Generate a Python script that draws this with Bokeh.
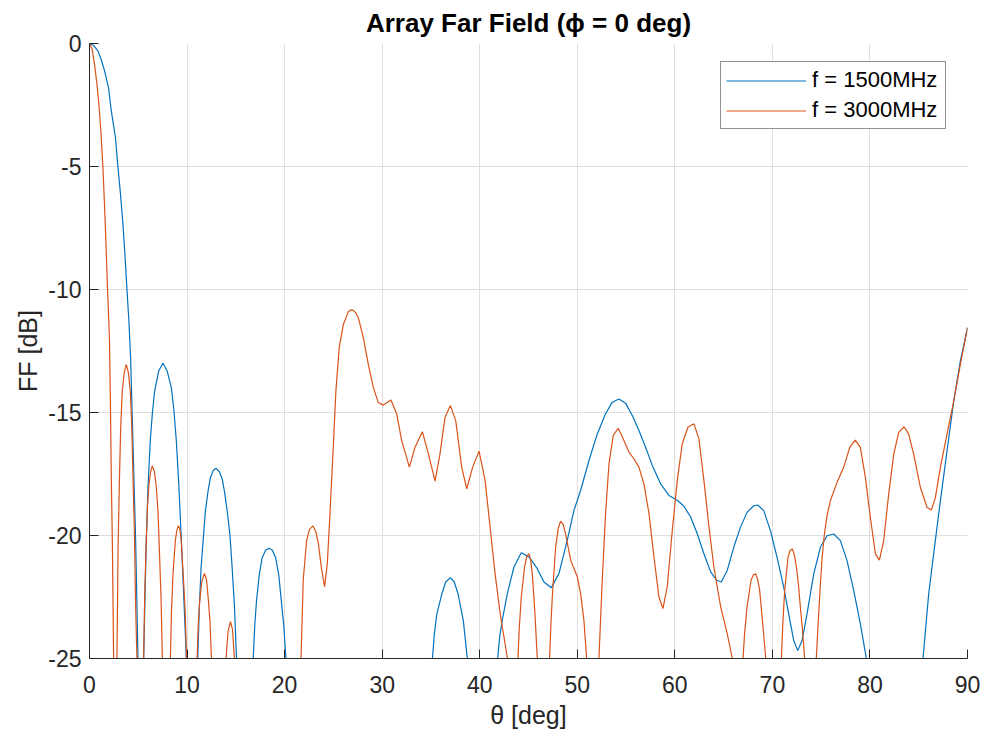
from bokeh.plotting import figure
from bokeh.models import Range1d, FixedTicker, Legend, LegendItem, CustomJSTickFormatter
from bokeh.embed import file_html
from bokeh.resources import INLINE

# f = 1500 MHz  (-40 marks a null below the axis)
theta_1500 = [0, 0.4, 0.86, 1.2, 1.54, 1.95, 2.23, 2.65, 2.91, 3.15, 3.42, 3.65, 3.84, 4.04, 4.21, 4.45,
              4.73, 4.97, 5.26, 5.55, 5.82, 6.0, 6.23, 6.45, 6.68, 7.1, 7.53, 7.95, 8.39, 8.65, 8.9,
              9.15, 9.42, 9.93, 10.5, 11.1, 11.25, 11.44, 11.88, 12.15, 12.4, 12.7, 12.98, 13.3, 13.6,
              13.85, 14.11, 14.4, 14.62, 14.85, 15.07, 15.9, 16.78, 16.95, 17.12, 17.4, 17.7, 18.05,
              18.39, 18.75, 19.08, 19.4, 19.66, 19.9, 20.14, 27.6,
              35.15, 35.35, 35.6, 36.1, 36.5, 36.99, 37.4, 37.8, 38.32, 38.73, 40.3, 41.84, 42.05, 42.31,
              42.83, 43.51, 44.26, 45.05, 45.9, 46.58, 47.34, 48.12, 48.97, 49.66, 50.34, 51.2, 52.05,
              52.9, 53.59, 54.27, 54.95, 55.64, 56.32, 57.0, 57.69, 58.54, 59.4, 60.25, 60.93, 61.62,
              62.3, 62.98, 63.67, 64.28, 64.76, 65.37, 66.04, 66.72, 67.4, 68.09, 68.5, 69.11, 69.8,
              70.48, 71.16, 71.67, 72.19, 72.6, 73.04, 73.55, 74.24, 74.92, 75.6, 76.29, 76.97, 77.65,
              78.34, 79.02, 79.63, 82.5, 85.44, 86.02, 86.53, 87.22, 87.9, 88.59, 89.27, 90.0]
ff_1500 = [0, -0.07, -0.3, -0.65, -1.1, -1.8, -2.73, -3.8, -5.0, -6.0, -7.3, -8.7, -10.0, -11.3, -12.73, -16.15,
           -20.2, -25, -40, -25, -20.2, -18.0, -16.15, -15.0, -14.12, -13.3, -13.0, -13.3, -13.99, -14.9, -16.15,
           -17.9, -20.2, -25, -40, -25, -23.0, -21.3, -19.0, -18.2, -17.64, -17.35, -17.27, -17.4, -17.7,
           -18.25, -19.0, -20.0, -21.3, -22.8, -25, -40, -25, -23.6, -22.65, -21.6, -20.9, -20.6,
           -20.52, -20.6, -20.9, -21.6, -22.65, -23.6, -25, -40,
           -25, -24.0, -23.2, -22.4, -21.9, -21.71, -21.9, -22.4, -23.47, -25, -40, -25, -24.1, -23.44,
           -22.36, -21.28, -20.7, -20.87, -21.35, -21.89, -22.12, -21.55, -20.2, -18.98, -18.17, -16.95, -15.87,
           -15.05, -14.58, -14.45, -14.62, -15.12, -15.73, -16.41, -17.15, -17.9, -18.37, -18.57, -18.81, -19.25,
           -19.93, -20.74, -21.48, -21.82, -21.89, -21.42, -20.48, -19.67, -19.06, -18.79, -18.76, -18.99, -19.8,
           -20.89, -22.1, -23.19, -24.27, -24.68, -24.27, -23.19, -21.56, -20.48, -20.01, -19.94, -20.21, -21.02,
           -22.24, -23.59, -25, -40, -25, -22.38, -20.75, -18.59, -16.56, -14.53, -12.9, -11.55]

# f = 3000 MHz
theta_3000 = [0, 0.25, 0.51, 0.75, 0.96, 1.17, 1.37, 1.5, 1.64, 1.85, 1.95, 2.05, 2.14, 2.23, 2.35, 2.47,
              2.64, 2.81, 2.93, 3.08, 3.2, 3.36, 3.55, 3.77, 4.0, 4.18, 4.32, 4.45, 4.6, 4.73, 4.86,
              5.2, 5.55, 5.67, 5.82, 5.95, 6.1, 6.27, 6.44, 6.65, 6.85, 7.03, 7.19, 7.33, 7.47, 7.9,
              8.29, 8.4, 8.56, 8.8, 8.95, 9.11, 9.27, 9.4, 9.65, 9.8, 9.95, 10.5, 11.03, 11.15, 11.3,
              11.5, 11.78, 12.0, 12.19, 12.35, 12.5, 13.2, 14.0, 14.2, 14.45, 14.65, 14.86, 18.0,
              21.68, 21.91, 22.26, 22.55, 22.9, 23.2, 23.45, 23.8, 24.1, 24.38, 24.65, 24.99, 25.26,
              25.6, 26.02, 26.53, 26.78, 27.04, 27.3, 27.56, 28.07, 28.58, 29.09, 29.6, 30.12, 30.9,
              31.49, 32.0, 32.79, 33.37, 34.12, 34.74, 35.42, 35.93, 36.44, 36.99, 37.54, 38.15, 38.67,
              39.28, 39.93, 40.55, 41.06, 41.57, 42.09, 42.84, 43.4, 43.92, 44.05, 44.26, 44.6, 44.82,
              45.05, 45.22, 45.39, 45.66, 45.9, 46.5, 47.16, 47.3, 47.44, 47.78, 48.05, 48.29, 48.55,
              48.8, 49.32, 50.0, 50.34, 50.68, 50.96, 51.6, 52.22, 52.56, 52.9, 53.25, 53.69, 54.2,
              54.78, 55.3, 55.8, 56.32, 56.83, 57.35, 57.86, 58.37, 58.78, 59.22, 59.74, 60.25, 60.76,
              61.34, 61.96, 62.47, 62.98, 63.5, 64.0, 64.7, 65.37, 65.89, 66.4, 66.99, 67.15, 67.4,
              67.81, 68.05, 68.29, 68.5, 68.7, 69.04, 69.32, 70.1, 70.92, 71.08, 71.26, 71.6, 71.82,
              72.05, 72.26, 72.46, 72.66, 72.87, 73.1, 73.31, 73.9, 74.5, 74.7, 74.92, 75.1, 75.33,
              75.6, 75.94, 76.63, 77.31, 77.93, 78.5, 79.02, 79.53, 80.04, 80.56, 80.97, 81.41, 81.92,
              82.44, 82.95, 83.5, 83.97, 84.48, 85.17, 85.85, 86.3, 86.71, 87.22, 87.9, 88.59, 89.27, 90.0]
ff_3000 = [0, -0.2, -0.84, -1.6, -2.46, -3.6, -5.0, -6.2, -7.6, -10.0, -11.0, -12.1, -14.5, -17.5, -20.5, -25,
           -40, -25, -20.5, -17.5, -15.6, -14.12, -13.4, -13.04, -13.4, -14.12, -15.4, -17.5, -19.8, -22.9, -25,
           -40, -25, -22.2, -20.2, -18.8, -17.9, -17.4, -17.17, -17.4, -18.04, -19.1, -20.9, -22.5, -25, -40,
           -25, -23.1, -21.56, -20.2, -19.8, -19.6, -19.75, -20.2, -21.9, -23.0, -25, -40, -25, -23.6, -22.65,
           -21.9, -21.54, -21.8, -22.65, -23.5, -25, -40, -25, -23.9, -23.5, -23.8, -25, -40,
           -25, -21.8, -20.2, -19.75, -19.61, -19.85, -20.3, -21.4, -22.08, -21.13, -19.1, -16.4, -14.1,
           -12.36, -11.42, -10.9, -10.83, -10.85, -10.95, -11.15, -11.96, -13.04, -13.98, -14.59, -14.7, -14.49,
           -15.06, -16.14, -17.22, -16.41, -15.78, -16.68, -17.79, -16.68, -15.2, -14.72, -15.33, -17.22, -18.1,
           -17.22, -16.57, -17.76, -19.65, -21.54, -23.16, -25, -40, -25, -23.8, -22.5, -21.28, -20.85,
           -20.74, -21.0, -21.55, -23.17, -25, -40, -25, -23.6, -22.5, -20.47, -19.7, -19.42, -19.55,
           -19.93, -21.0, -21.68, -22.36, -23.44, -25, -40, -25, -21.82, -19.11, -17.08, -15.93, -15.64,
           -16.14, -16.61, -16.88, -17.22, -17.9, -19.11, -20.87, -22.5, -22.97, -22.09, -19.79, -17.76, -16.27,
           -15.6, -15.46, -16.07, -17.76, -19.65, -21.28, -22.9, -23.99, -25, -40, -25, -24.0, -22.9,
           -21.83, -21.6, -21.56, -21.8, -22.24, -23.73, -25, -40, -25, -23.5, -22.24, -20.89, -20.6,
           -20.55, -20.8, -21.29, -21.95, -22.92, -23.9, -25, -40, -25, -23.5, -21.97, -20.9, -19.94,
           -19.2, -18.59, -17.84, -17.23, -16.42, -16.12, -16.42, -17.64, -19.26, -20.75, -21.0, -20.21, -18.32,
           -16.69, -15.81, -15.58, -15.88, -16.69, -18.04, -18.86, -18.96, -18.45, -17.23, -15.88, -14.53, -13.04, -11.55]

series_labels = ["f = 1500MHz", "f = 3000MHz"]
x_ticks = [0, 10, 20, 30, 40, 50, 60, 70, 80, 90]
y_ticks = [-25, -20, -15, -10, -5, 0]

FONT = "Liberation Sans"
DARK = "#262626"

p = figure(width=981, height=731, output_backend="svg", toolbar_location=None,
           x_range=Range1d(0, 90), y_range=Range1d(-25, 0),
           min_border_left=89, min_border_right=14, min_border_top=42, min_border_bottom=73,
           title="Array Far Field (ϕ = 0 deg)")

p.title.text_font = FONT
p.title.text_font_size = "26px"
p.title.text_font_style = "bold"
p.title.text_color = "#000000"
p.title.align = "center"
p.title.standoff = 11

p.outline_line_color = None
p.background_fill_color = "white"
p.border_fill_color = "white"

fmt = CustomJSTickFormatter(code="return String(tick);")
for ax in (p.xaxis[0], p.yaxis[0]):
    ax.axis_line_color = DARK
    ax.axis_line_width = 1
    ax.major_tick_line_color = DARK
    ax.major_tick_in = 9
    ax.major_tick_out = 0
    ax.minor_tick_line_color = None
    ax.major_label_text_font = FONT
    ax.major_label_text_font_size = "23px"
    ax.major_label_text_color = DARK
    ax.axis_label_text_font = FONT
    ax.axis_label_text_font_size = "25px"
    ax.axis_label_text_font_style = "normal"
    ax.axis_label_text_color = DARK
    ax.formatter = fmt

p.xaxis[0].ticker = FixedTicker(ticks=x_ticks)
p.yaxis[0].ticker = FixedTicker(ticks=y_ticks)
p.xaxis[0].axis_label = "θ [deg]"
p.yaxis[0].axis_label = "FF [dB]"
p.xaxis[0].major_label_standoff = 17
p.yaxis[0].major_label_standoff = 8
p.xaxis[0].axis_label_standoff = 5
p.yaxis[0].axis_label_standoff = 3

p.xgrid.grid_line_color = "#dfdfdf"
p.ygrid.grid_line_color = "#dfdfdf"
p.xgrid.grid_line_width = 1
p.ygrid.grid_line_width = 1

r1 = p.line(theta_1500, ff_1500, line_color="#0072BD", line_width=1.2)
r2 = p.line(theta_3000, ff_3000, line_color="#D95319", line_width=1.2)

legend = Legend(items=[LegendItem(label=series_labels[0], renderers=[r1]),
                       LegendItem(label=series_labels[1], renderers=[r2])],
                location=(631, 529))
legend.label_text_font = FONT
legend.label_text_font_size = "22px"
legend.label_text_color = "#000000"
legend.glyph_width = 80
legend.glyph_height = 19
legend.label_height = 19
legend.label_width = 128
legend.label_standoff = 6
legend.spacing = 4
legend.padding = 5
legend.margin = 0
legend.border_line_color = DARK
legend.border_line_width = 1
legend.background_fill_color = "white"
legend.background_fill_alpha = 1
p.add_layout(legend)

open("out.html", "w").write(file_html(p, INLINE))
